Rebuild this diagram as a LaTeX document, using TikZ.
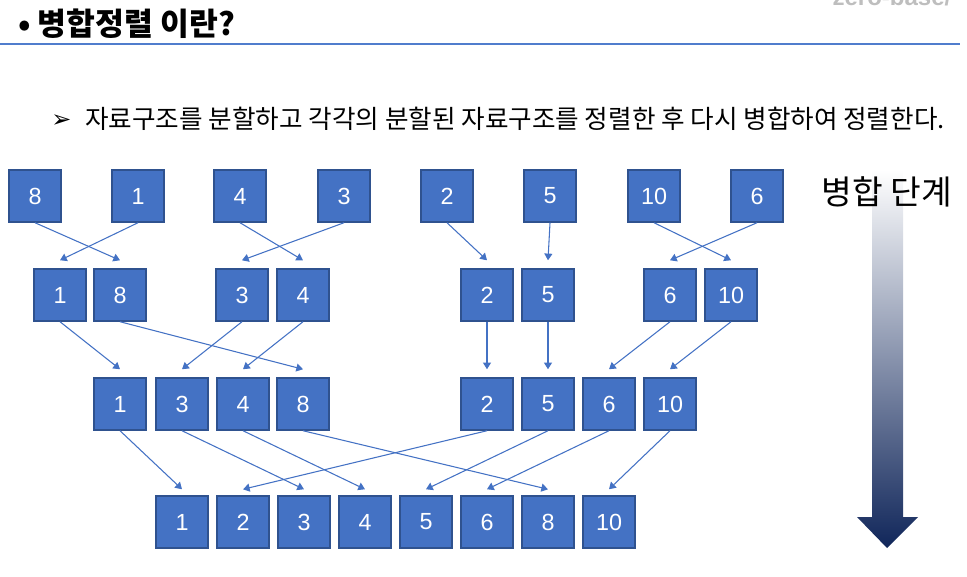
\documentclass[tikz,border=0pt]{standalone}
\usepackage{fontspec}
\setmainfont{Liberation Sans}
\newfontfamily\kor{Noto Sans CJK KR}
\newfontfamily\sym{DejaVu Sans}
\usepackage{xcolor}
\usetikzlibrary{arrows.meta}
\definecolor{box}{RGB}{68,114,196}
\definecolor{box_edge}{RGB}{47,82,143}
\definecolor{rule_line}{RGB}{80,125,205}
\definecolor{merge_dark}{RGB}{16,38,90}
\definecolor{logo}{RGB}{190,190,190}

\begin{document}
\begin{tikzpicture}[x=0.75pt, y=-0.75pt,
            num/.style = {draw=box_edge, fill=box, line width=1.1pt, minimum size=39pt,
                          inner sep=0pt, text=white, font=\fontsize{17.5}{17.5}\selectfont},
            link/.style = {draw=box, line width=0.8pt, -{Triangle[length=5pt, width=6pt]}}
            ]
            \useasboundingbox (0,0) rectangle (967,577);

            % header
            \node[anchor=base east, text=logo, font=\bfseries\fontsize{18}{18}\selectfont] (logo) at (956,6) {zero-base/};
            \draw[rule_line, line width=0.8pt] (0,44) -- (960,44);
            \node[anchor=base west, inner sep=0pt, font=\kor\bfseries\fontsize{23.5}{23.5}\selectfont] (title) at (18,36) {• 병합정렬 이란?};
            \node[anchor=base west, inner sep=0pt, font=\sym\bfseries\fontsize{18}{18}\selectfont] (mark) at (51,128) {➢};
            \node[anchor=base west, inner sep=0pt, font=\kor\fontsize{19.2}{19.2}\selectfont] (desc) at (85,129) {자료구조를 분할하고 각각의 분할된 자료구조를 정렬한 후 다시 병합하여 정렬한다.};

            % merge step arrow
            \shade[top color=white, bottom color=merge_dark]
                (872,170) -- (903,170) -- (903,517) -- (918,517) -- (887,548) -- (857,517) -- (872,517) -- cycle;
            \node[font=\kor\fontsize{25}{25}\selectfont] (step_label) at (887,192) {병합 단계};

            % rows
            \foreach \i/\x/\v in {1/35/8, 2/138/1, 3/240/4, 4/344/3, 5/447/2, 6/550/5, 7/654/10, 8/757/6}
                \node[num] (a\i) at (\x,196) {\v};
            \foreach \i/\x/\v in {1/60/1, 2/120/8, 3/242/3, 4/303/4, 5/487/2, 6/548/5, 7/670/6, 8/731/10}
                \node[num] (b\i) at (\x,295) {\v};
            \foreach \i/\x/\v in {1/120/1, 2/182/3, 3/243/4, 4/303/8, 5/487/2, 6/548/5, 7/609/6, 8/670/10}
                \node[num] (c\i) at (\x,404) {\v};
            \foreach \i/\x/\v in {1/182/1, 2/243/2, 3/304/3, 4/365/4, 5/426/5, 6/487/6, 7/548/8, 8/609/10}
                \node[num] (d\i) at (\x,522) {\v};

            % merges
            \foreach \s/\t in {1/2, 2/1, 3/4, 4/3, 5/5, 6/6, 7/8, 8/7}
                \draw[link] (a\s.south) -- ([yshift=6pt]b\t.north);
            \foreach \s/\t in {1/1, 2/4, 3/2, 4/3, 5/5, 6/6, 7/7, 8/8}
                \draw[link] (b\s.south) -- ([yshift=6pt]c\t.north);
            \foreach \s/\t in {1/1, 2/3, 3/4, 4/7, 5/2, 6/5, 7/6, 8/8}
                \draw[link] (c\s.south) -- ([yshift=4.5pt]d\t.north);
        \end{tikzpicture}
\end{document}
